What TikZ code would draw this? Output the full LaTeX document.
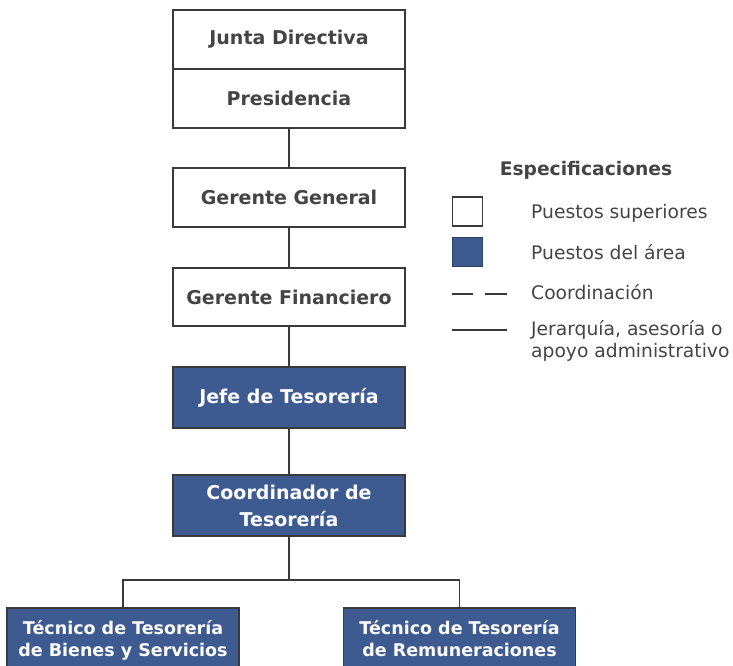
\documentclass[tikz,border=0pt]{standalone}
\usepackage{fontspec}
\setmainfont{DejaVu Sans}
\definecolor{linec}{HTML}{3A3A3A}
\definecolor{textc}{HTML}{444444}
\definecolor{bluec}{HTML}{3D5A91}
\definecolor{blueb}{HTML}{2E3F63}
\begin{document}
\begin{tikzpicture}[x=1pt,y=-1pt,
  conn/.style={draw=linec, line width=1.5pt},
  box/.style={draw=linec, line width=1.4pt, minimum width=232pt, align=center, inner sep=0pt,
              font=\bfseries\fontsize{19}{27}\selectfont},
  wbox/.style={box, fill=white, text=textc},
  bbox/.style={box, fill=bluec, text=white},
  tbox/.style={bbox, font=\bfseries\fontsize{17.5}{22.5}\selectfont},
  legtxt/.style={anchor=west, inner sep=0pt, text=textc, font=\fontsize{18.7}{22}\selectfont, align=left}]
\path[use as bounding box] (0,0) rectangle (733,666);
\clip (0,0) rectangle (733,666);
% main column
\node[wbox, minimum height=59pt] (junta) at (289,39.5) {Junta Directiva};
\node[wbox, minimum height=59pt] (pres) at (289,98.5) {Presidencia};
\node[wbox, minimum height=59pt] (gg) at (289,197.5) {Gerente General};
\node[wbox, minimum height=58pt] (gf) at (289,297) {Gerente Financiero};
\node[bbox, minimum height=61pt] (jefe) at (289,397.5) {Jefe de Tesorería};
\node[bbox, minimum height=61pt] (coord) at (289,505.5) {Coordinador de\\Tesorería};
\node[tbox, minimum height=68pt] (tl) at (123,642) {Técnico de Tesorería\\de Bienes y Servicios\strut};
\node[tbox, minimum height=68pt] (tr) at (459.5,642) {Técnico de Tesorería\\de Remuneraciones\strut};
% connectors
\draw[conn] (pres.south) -- (gg.north);
\draw[conn] (gg.south) -- (gf.north);
\draw[conn] (gf.south) -- (jefe.north);
\draw[conn] (jefe.south) -- (coord.north);
\draw[conn] (coord.south) -- ++(0,43) coordinate (bar);
\draw[conn, line width=1.8pt] (tl.north) -- (tl.north |- bar) -- (tr.north |- bar) -- (tr.north);
% legend
\node[inner sep=0pt, text=textc, font=\bfseries\fontsize{18.7}{22}\selectfont] (legt) at (586,170) {Especificaciones};
\node[draw=linec, line width=1.2pt, fill=white, minimum width=30pt, minimum height=29pt, inner sep=0pt] (lw) at (467.5,211.5) {};
\node[draw=blueb, line width=1.2pt, fill=bluec, minimum width=30pt, minimum height=29pt, inner sep=0pt] (lb) at (467.5,252) {};
\coordinate (d1a) at (452,294); \coordinate (d1b) at (473,294);
\coordinate (d2a) at (485,294); \coordinate (d2b) at (507,294);
\coordinate (s1a) at (452,330); \coordinate (s1b) at (507,330);
\draw[conn] (d1a) -- (d1b);
\draw[conn] (d2a) -- (d2b);
\draw[conn] (s1a) -- (s1b);
\node[legtxt] (l1) at (531,213) {Puestos superiores};
\node[legtxt] (l2) at (531,252) {Puestos del área};
\node[legtxt] (l3) at (531,292) {Coordinación};
\node[legtxt] (l4) at (531,341) {Jerarquía, asesoría o\\apoyo administrativo};
\end{tikzpicture}
\end{document}
